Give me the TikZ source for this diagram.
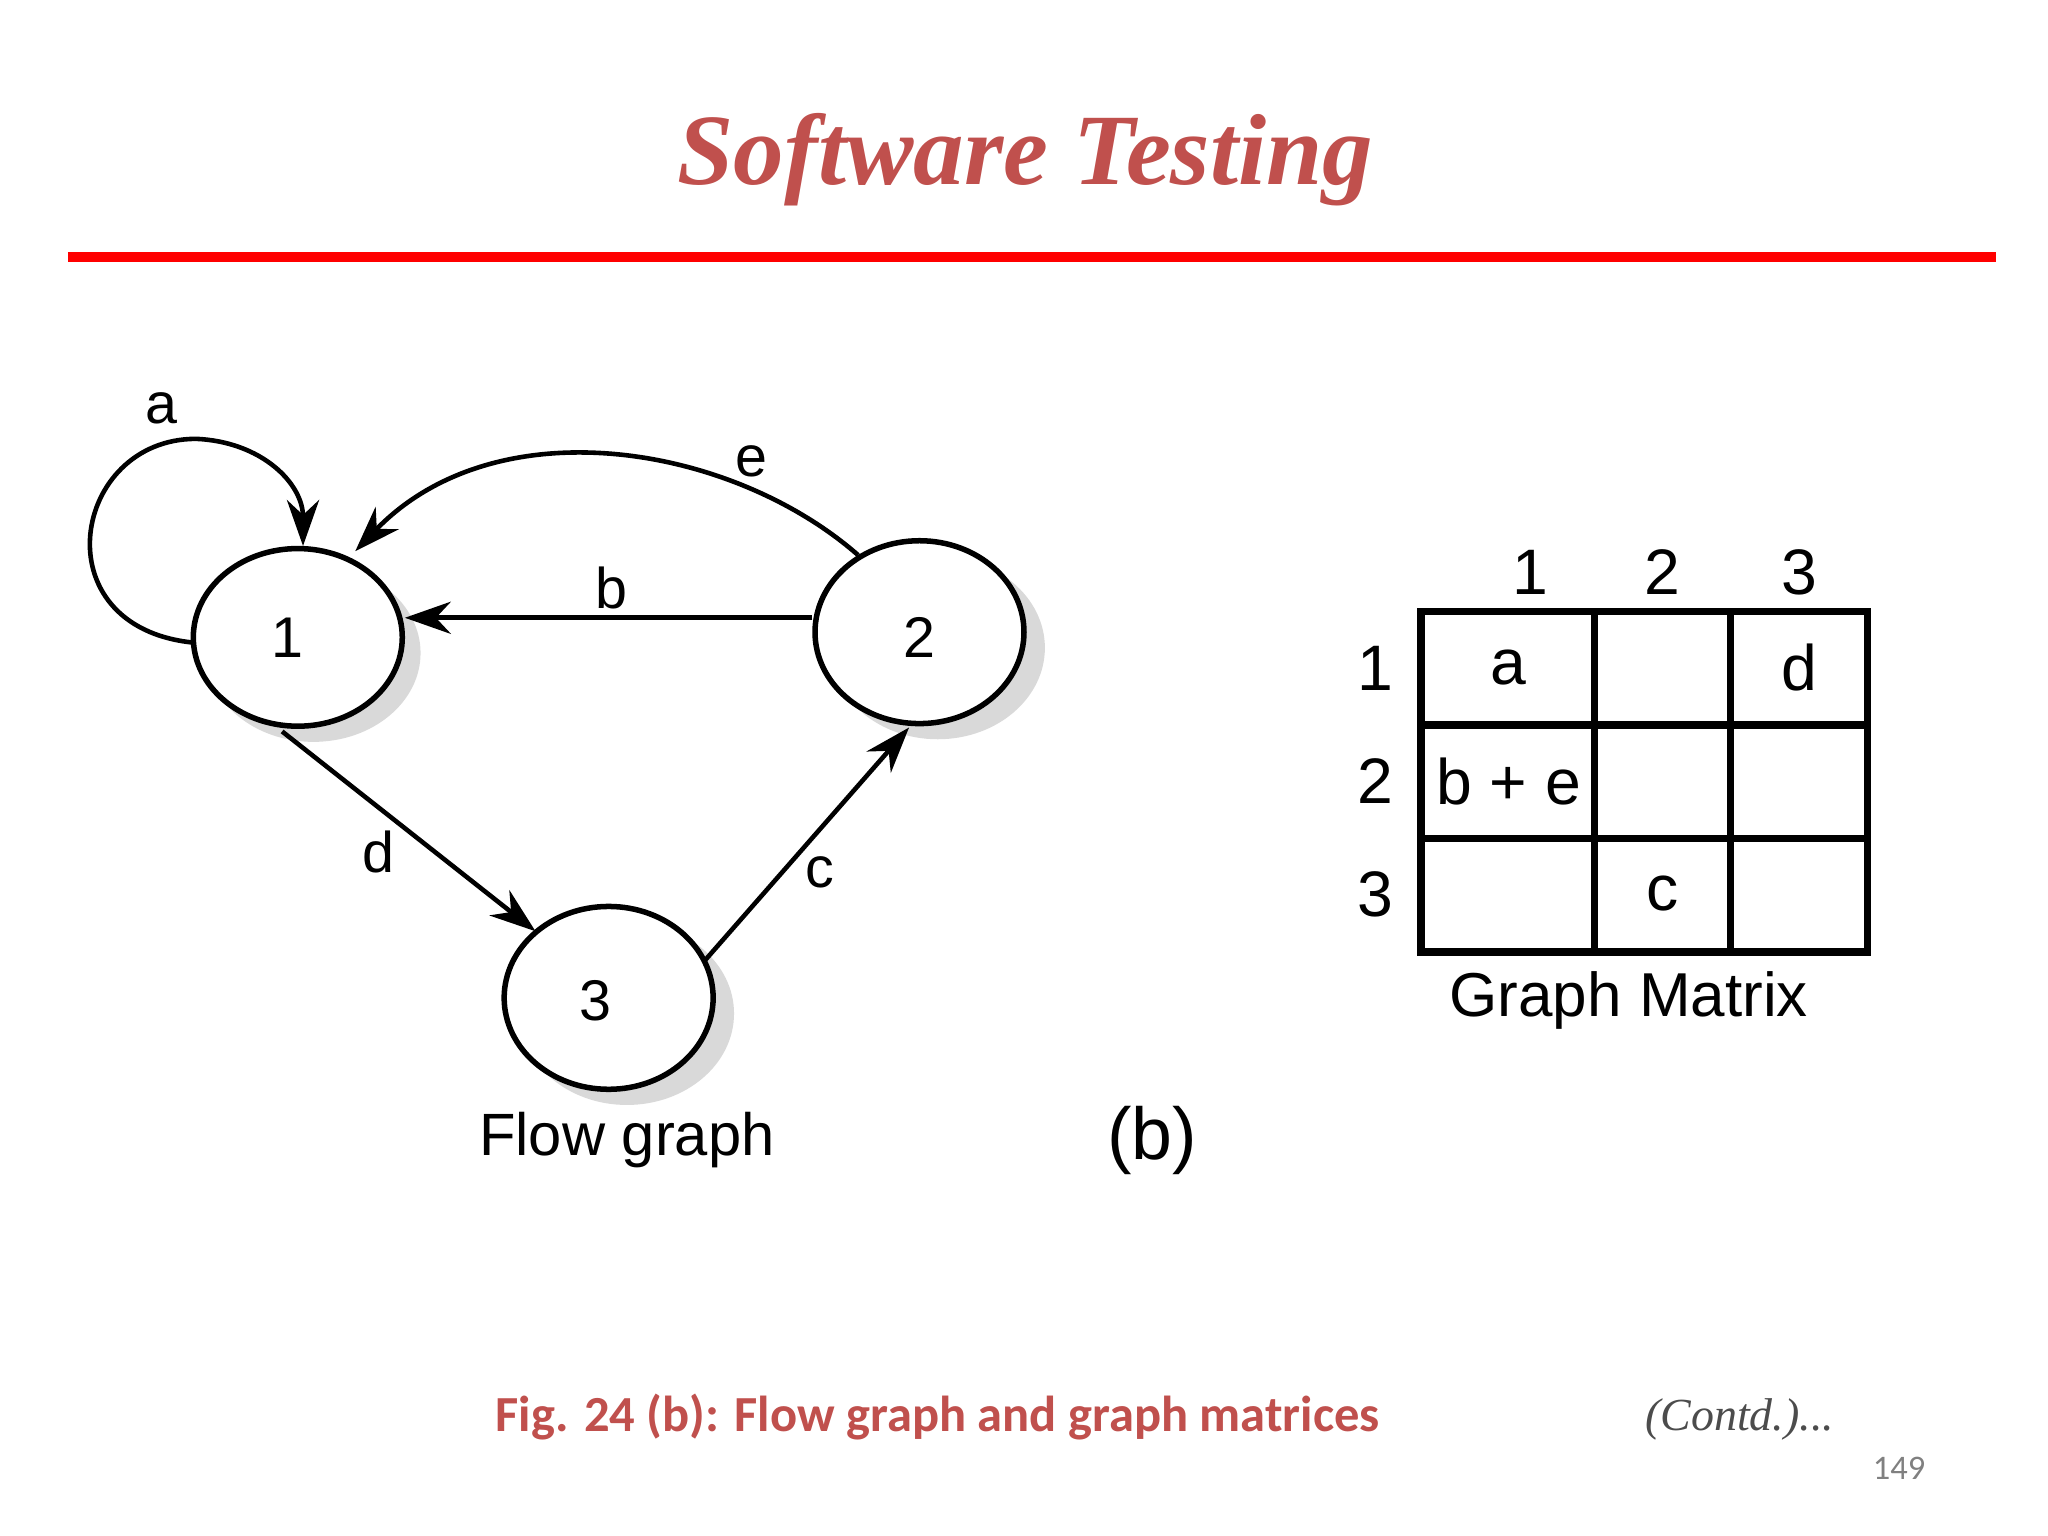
\documentclass[tikz,border=0pt]{standalone}
\usepackage{fontspec}
\setmainfont{Liberation Sans}
\newfontfamily\titlefont{Liberation Serif}
\newfontfamily\capfont{Carlito}
\usetikzlibrary{arrows.meta}
\definecolor{tred}{RGB}{192,80,77}
\tikzset{
 sh/.style={fill=black!15,draw=none},
 edge/.style={line width=1pt,-{Stealth[length=10pt,width=7pt]}},
 lab/.style={font=\fontsize{12.5}{15}\selectfont},
 mlab/.style={font=\fontsize{14}{17}\selectfont},
}
\begin{document}
\begin{tikzpicture}[x=0.01cm,y=-0.01cm]
\useasboundingbox (0,0) rectangle (1568,1176);
\node[font=\titlefont\bfseries\itshape\fontsize{22}{26}\selectfont,text=tred] (title) at (785,122) {Software Testing};
\draw[line width=2.2pt,red] (52,197) -- (1528,197);
% shadows
\fill[sh] (240,500) ellipse [x radius=82, y radius=68];
\fill[sh] (718,496) ellipse [x radius=82, y radius=70];
\fill[sh] (480,776) ellipse [x radius=82, y radius=70];
\draw[line width=1.2pt,fill=white] (228,488) ellipse [x radius=80, y radius=68];
\node[lab] (t1) at (220,488) {1};
\draw[line width=1.2pt,fill=white] (704,484) ellipse [x radius=80, y radius=70];
\node[lab] (t2) at (704,488) {2};
\draw[line width=1.2pt,fill=white] (466,764) ellipse [x radius=80, y radius=70];
\node[lab] (t3) at (456,766) {3};
\coordinate (aS) at (148,492);
\coordinate (aE) at (232,418);
\coordinate (eS) at (657,425);
\coordinate (eE) at (272,422);
\coordinate (bS) at (622,473);
\coordinate (bE) at (310,473);
\coordinate (dS) at (216,560);
\coordinate (dE) at (410,713);
\coordinate (cS) at (540,735);
\coordinate (cE) at (696,557);
\draw[edge] (aS) .. controls (30,480) and (55,336) .. (150,336) .. controls (200,338) and (232,370) .. (aE);
\draw[edge] (eS) .. controls (560,340) and (380,310) .. (eE);
\draw[edge] (bS) -- (bE);
\draw[edge] (dS) -- (dE);
\draw[edge] (cS) -- (cE);
\node[lab] (la) at (124,313) {a};
\node[lab] (le) at (575,353) {e};
\node[lab] (lb) at (468,450) {b};
\node[lab] (ld) at (290,652) {d};
\node[lab] (lc) at (628,668) {c};
\node[font=\fontsize{13}{16}\selectfont] (fg) at (480,873) {Flow graph};
\node[font=\fontsize{16}{19}\selectfont] (bb) at (882,873) {(b)};
% matrix
\draw[line width=1.6pt] (1088,468) rectangle (1430,729);
\draw[line width=1.6pt] (1221,468) -- (1221,729) (1325,468) -- (1325,729)
  (1088,555) -- (1430,555) (1088,642) -- (1430,642);
\foreach \x/\t in {1172/1,1273/2,1378/3} \node[mlab] (c\t) at (\x,438) {\t};
\foreach \y/\t in {512/1,598/2,685/3} \node[mlab] (r\t) at (1053,\y) {\t};
\node[mlab] (m11) at (1155,511) {a};
\node[mlab] (m13) at (1378,511) {d};
\node[mlab] (m21) at (1155,598) {b + e};
\node[mlab] (m32) at (1273,684) {c};
\node[font=\fontsize{13.5}{16}\selectfont] (gm) at (1247,766) {Graph Matrix};
\node[font=\capfont\bfseries\fontsize{11}{13}\selectfont,text=tred] (cap) at (718,1085) {Fig. 24 (b): Flow graph and graph matrices};
\node[font=\titlefont\itshape\fontsize{10}{12}\selectfont,text=black!70] (contd) at (1332,1087) {(Contd.)...};
\node[font=\capfont\fontsize{7.5}{9}\selectfont,text=black!50] (pg) at (1454,1124) {149};
\end{tikzpicture}
\end{document}
